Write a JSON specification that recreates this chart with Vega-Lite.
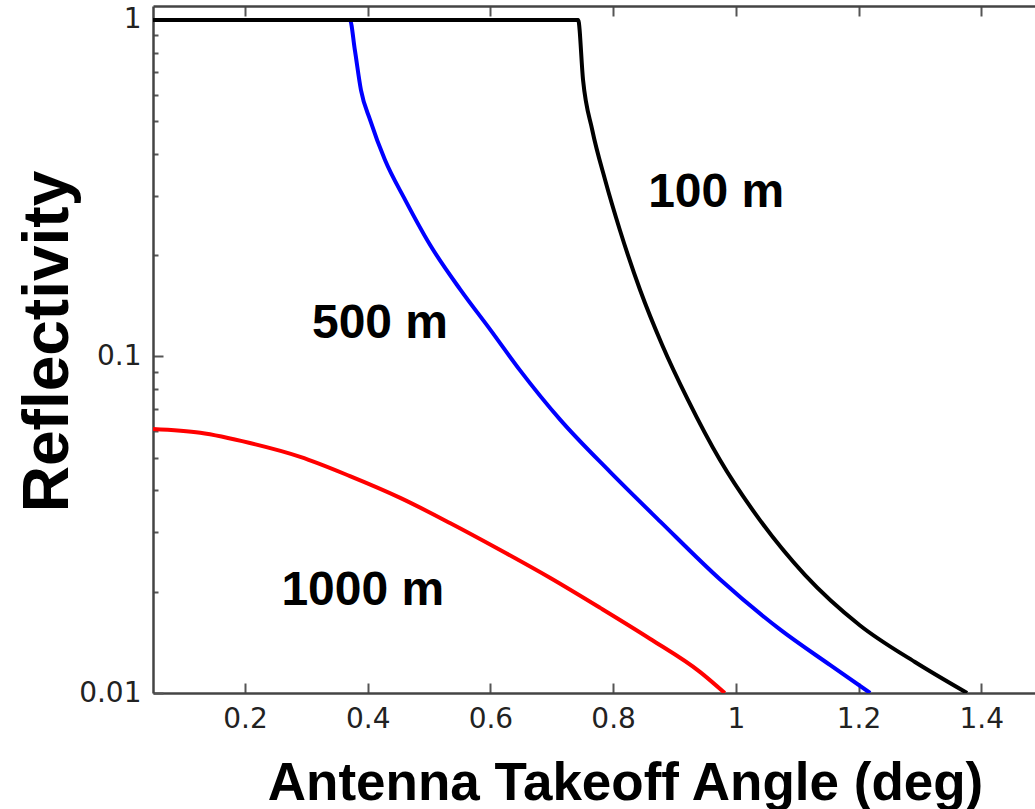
{
  "$schema": "https://vega.github.io/schema/vega-lite/v6.json",
  "width": 882,
  "height": 687,
  "autosize": {"type": "none"},
  "padding": {"left": 153, "top": 6, "right": 0, "bottom": 116},
  "background": "#ffffff",
  "config": {"view": {"stroke": null}},
  "datasets": {
    "curves": [
      {"depth": "1000 m", "angle": 0.05, "refl": 0.0609},
      {"depth": "1000 m", "angle": 0.127, "refl": 0.0593},
      {"depth": "1000 m", "angle": 0.208, "refl": 0.0553},
      {"depth": "1000 m", "angle": 0.29, "refl": 0.0503},
      {"depth": "1000 m", "angle": 0.371, "refl": 0.0441},
      {"depth": "1000 m", "angle": 0.453, "refl": 0.038},
      {"depth": "1000 m", "angle": 0.534, "refl": 0.032},
      {"depth": "1000 m", "angle": 0.616, "refl": 0.0266},
      {"depth": "1000 m", "angle": 0.697, "refl": 0.022},
      {"depth": "1000 m", "angle": 0.779, "refl": 0.0179},
      {"depth": "1000 m", "angle": 0.86, "refl": 0.0145},
      {"depth": "1000 m", "angle": 0.942, "refl": 0.01154},
      {"depth": "1000 m", "angle": 0.982, "refl": 0.01},
      {"depth": "500 m", "angle": 0.05, "refl": 1},
      {"depth": "500 m", "angle": 0.371, "refl": 1},
      {"depth": "500 m", "angle": 0.379, "refl": 0.815},
      {"depth": "500 m", "angle": 0.389, "refl": 0.619},
      {"depth": "500 m", "angle": 0.404, "refl": 0.504},
      {"depth": "500 m", "angle": 0.428, "refl": 0.384},
      {"depth": "500 m", "angle": 0.461, "refl": 0.292},
      {"depth": "500 m", "angle": 0.502, "refl": 0.214},
      {"depth": "500 m", "angle": 0.551, "refl": 0.158},
      {"depth": "500 m", "angle": 0.6, "refl": 0.12},
      {"depth": "500 m", "angle": 0.648, "refl": 0.0911},
      {"depth": "500 m", "angle": 0.714, "refl": 0.0648},
      {"depth": "500 m", "angle": 0.795, "refl": 0.0454},
      {"depth": "500 m", "angle": 0.877, "refl": 0.0323},
      {"depth": "500 m", "angle": 0.975, "refl": 0.0217},
      {"depth": "500 m", "angle": 1.073, "refl": 0.0154},
      {"depth": "500 m", "angle": 1.154, "refl": 0.0121},
      {"depth": "500 m", "angle": 1.219, "refl": 0.01},
      {"depth": "100 m", "angle": 0.05, "refl": 1},
      {"depth": "100 m", "angle": 0.743, "refl": 1},
      {"depth": "100 m", "angle": 0.751, "refl": 0.663},
      {"depth": "100 m", "angle": 0.766, "refl": 0.471},
      {"depth": "100 m", "angle": 0.787, "refl": 0.3345},
      {"depth": "100 m", "angle": 0.811, "refl": 0.2376},
      {"depth": "100 m", "angle": 0.844, "refl": 0.1576},
      {"depth": "100 m", "angle": 0.88, "refl": 0.1082},
      {"depth": "100 m", "angle": 0.922, "refl": 0.0743},
      {"depth": "100 m", "angle": 0.974, "refl": 0.0493},
      {"depth": "100 m", "angle": 1.039, "refl": 0.0327},
      {"depth": "100 m", "angle": 1.113, "refl": 0.0224},
      {"depth": "100 m", "angle": 1.202, "refl": 0.0159},
      {"depth": "100 m", "angle": 1.292, "refl": 0.01236},
      {"depth": "100 m", "angle": 1.377, "refl": 0.01}
    ],
    "labels": [
      {"label": "100 m", "angle": 0.968, "refl": 0.278},
      {"label": "500 m", "angle": 0.42, "refl": 0.1135},
      {"label": "1000 m", "angle": 0.392, "refl": 0.01826}
    ]
  },
  "layer": [
    {
      "data": {"name": "curves"},
      "mark": {"type": "line", "strokeWidth": 4, "clip": true, "interpolate": "monotone"},
      "encoding": {
        "x": {
          "field": "angle", "type": "quantitative",
          "scale": {"domain": [0.05, 1.4877], "nice": false, "zero": false},
          "axis": {
            "orient": "bottom",
            "values": [0.2, 0.4, 0.6, 0.8, 1, 1.2, 1.4],
            "format": "~g",
            "grid": false,
            "tickSize": -10, "tickWidth": 2, "tickColor": "#555",
            "domainColor": "#444", "domainWidth": 2.5,
            "labelPadding": 22,
            "labelFont": "DejaVu Sans", "labelFontSize": 28, "labelColor": "#222",
            "title": "Antenna Takeoff Angle (deg)",
            "titleFont": "Liberation Sans", "titleFontSize": 53, "titleFontWeight": "bold", "titleColor": "#000",
            "titleAlign": "center", "titleBaseline": "alphabetic",
            "titleX": 472, "titleY": 106
          }
        },
        "y": {
          "field": "refl", "type": "quantitative",
          "scale": {"type": "log", "domain": [0.01, 1.1], "nice": false},
          "axis": {
            "values": [0.01, 0.02, 0.03, 0.04, 0.05, 0.06, 0.07, 0.08, 0.09, 0.1, 0.2, 0.3, 0.4, 0.5, 0.6, 0.7, 0.8, 0.9, 1],
            "format": "~g",
            "labelExpr": "datum.value == 1 || datum.value == 0.1 || datum.value == 0.01 ? datum.label : ''",
            "grid": false,
            "tickSize": {"condition": {"test": "datum.value == 1 || datum.value == 0.1 || datum.value == 0.01", "value": -10}, "value": -5},
            "tickWidth": 2, "tickColor": "#555",
            "domainColor": "#444", "domainWidth": 2.5,
            "labelPadding": 22,
            "labelFont": "DejaVu Sans", "labelFontSize": 28, "labelColor": "#222",
            "title": "Reflectivity",
            "titleFont": "Liberation Sans", "titleFontSize": 64, "titleFontWeight": "bold", "titleColor": "#000",
            "titleAngle": -90, "titleAlign": "center", "titleBaseline": "alphabetic",
            "titleX": -86, "titleY": 335
          }
        },
        "color": {
          "field": "depth", "type": "nominal",
          "scale": {"domain": ["1000 m", "500 m", "100 m"], "range": ["#ff0000", "#0000ff", "#000000"]},
          "legend": null
        }
      }
    },
    {
      "data": {"name": "labels"},
      "mark": {"type": "text", "font": "Liberation Sans", "fontSize": 48, "fontWeight": "bold", "color": "#000", "align": "center", "baseline": "alphabetic"},
      "encoding": {
        "x": {
          "field": "angle", "type": "quantitative",
          "scale": {"domain": [0.05, 1.4877], "nice": false, "zero": false},
          "axis": {
            "orient": "top",
            "values": [0.2, 0.4, 0.6, 0.8, 1, 1.2, 1.4],
            "labels": false,
            "grid": false,
            "tickSize": -10, "tickWidth": 2, "tickColor": "#555",
            "domainColor": "#444", "domainWidth": 2.5,
            "title": null
          }
        },
        "y": {"field": "refl", "type": "quantitative"},
        "text": {"field": "label"}
      }
    }
  ],
  "resolve": {"axis": {"x": "independent"}}
}
